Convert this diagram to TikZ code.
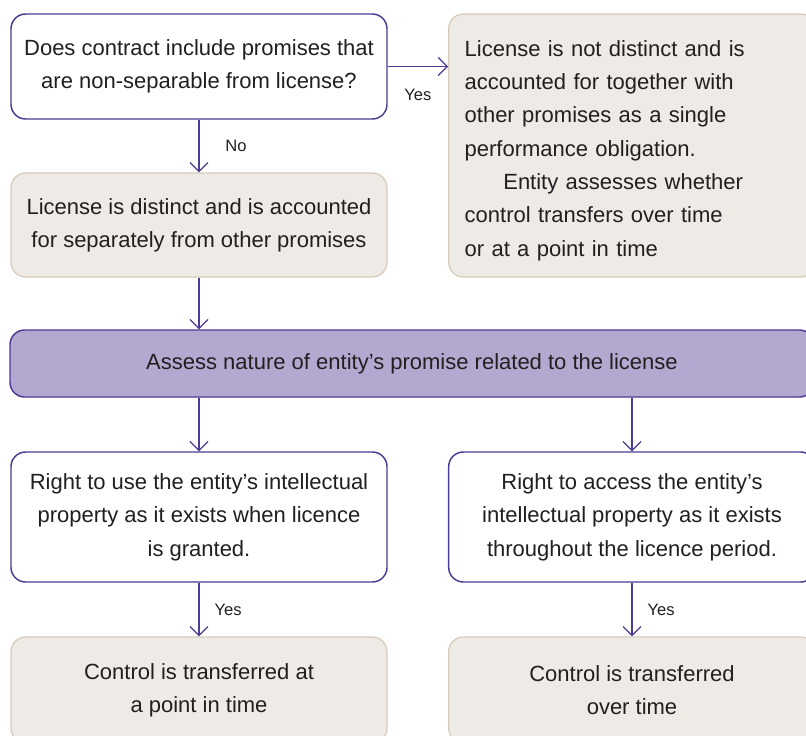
\documentclass[tikz,border=0pt]{standalone}
\usepackage{fontspec}
\setmainfont{Liberation Sans}
\usepackage{tikz}
\usetikzlibrary{arrows.meta,positioning}
\definecolor{flowPurple}{HTML}{4E3A92}
\definecolor{assessPurple}{HTML}{B3A8CF}
\definecolor{outcomeFill}{HTML}{EEEAE6}
\definecolor{outcomeLine}{HTML}{D5CAB9}
\definecolor{bodyText}{HTML}{231F20}
\tikzset{
  every flow box/.style={rounded corners=11pt,inner sep=0pt,text=bodyText,
    font=\fontsize{16.5}{25}\selectfont,align=center},
  question/.style={every flow box,draw=flowPurple,fill=white,line width=1.1pt},
  outcome/.style={every flow box,draw=outcomeLine,fill=outcomeFill,line width=0.9pt},
  assessment/.style={every flow box,draw=flowPurple,fill=assessPurple,line width=1.1pt},
  flow/.style={draw=flowPurple,line width=0.9pt,-{Straight Barb[length=6.75pt,width=13.5pt]}},
  answer/.style={text=bodyText,font=\fontsize{12.4}{14}\selectfont},
}

\begin{document}
\begin{tikzpicture}[
  x=0.75pt,y=-0.75pt,
  left col/.style={minimum width=282pt},
  right col/.style={minimum width=275pt},
]
\useasboundingbox (0,0) rectangle (806,735);
\clip (0,0) rectangle (806,735);

% first question and its two answers
\node[question,left col,minimum height=78.75pt] (nonsep) at (199,66.5)
  {Does contract include promises that\\are non-separable from license?};
\node[outcome,right col,minimum height=197.25pt,text width=251pt,align=left,
      text height=19.5pt] (notdistinct) at (632,145.5)
  {License is not distinct and is\\accounted for together with\\other promises as a single\\performance obligation.\\
   \hspace*{29pt}Entity assesses whether\\control transfers over time\\or at a point in time};
\node[outcome,left col,minimum height=78pt] (distinct) at (199,225)
  {License is distinct and is accounted\\for separately from other promises};

% nature of the promise
\node[assessment,minimum width=603pt,minimum height=50.25pt] (nature) at (412,363.5)
  {Assess nature of entity’s promise related to the license};

\node[question,left col,minimum height=97.5pt] (use) at (199,517)
  {Right to use the entity’s intellectual\\property as it exists when licence\\is granted.};
\node[question,right col,minimum height=97.5pt] (access) at (632,517)
  {Right to access the entity’s\\intellectual property as it exists\\throughout the licence period.};

\node[outcome,left col,minimum height=79.5pt] (pointintime) at (199,690)
  {Control is transferred at\\a point in time};
\node[outcome,right col,minimum height=79.5pt] (overtime) at (632,690)
  {Control is transferred\\over time};

% connectors
\draw[flow] (nonsep) -- (nonsep -| notdistinct.west)
  node[answer,midway,below=13pt] {Yes};
\draw[flow] (nonsep) -- (distinct)
  node[answer,midway,right=16pt] {No};
\draw[flow] (distinct) -- (distinct |- nature.north);
\foreach \right in {use,access}
  \draw[flow] (nature.south -| \right) -- (\right);
\draw[flow] (use) -- (pointintime) node[answer,midway,right=8pt] {Yes};
\draw[flow] (access) -- (overtime) node[answer,midway,right=8pt] {Yes};
\end{tikzpicture}
\end{document}
